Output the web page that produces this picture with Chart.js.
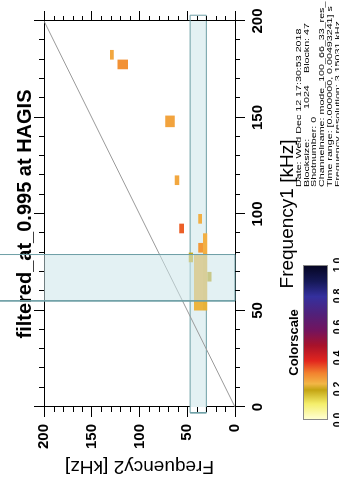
<!DOCTYPE html>
<html>
<head>
<meta charset="utf-8">
<script src="https://cdn.jsdelivr.net/npm/chart.js@4.4.1/dist/chart.umd.min.js"></script>
<style>
  html, body { margin: 0; padding: 0; background: #fff; overflow: hidden; }
  body { width: 339px; height: 477px; position: relative; }
  /* the plot is laid out landscape and turned a quarter turn, like the reference */
  #page {
    position: absolute; left: 0; top: 0; width: 477px; height: 339px; overflow: hidden;
    transform-origin: 0 0; transform: translateY(477px) rotate(-90deg);
    font-family: 'Liberation Sans', Arial, sans-serif; color: #000; background: #fff;
  }
  #chart { position: absolute; left: 0; top: 0; }
  #cbar-label { position: absolute; left: 57px; width: 155px; top: 286px; text-align: center;
    font-size: 13px; font-weight: bold; line-height: 16px; }
  #cbar { position: absolute; left: 57px; top: 303px; width: 153px; height: 23px; border: 1px solid #888; }
  #cbar-ticks { position: absolute; left: 57px; top: 331px; width: 155px; height: 14px; }
  #cbar-ticks span { position: absolute; top: 0; font-size: 10.5px; line-height: 12px; font-weight: bold; transform: translateX(-50%); }
  #meta { position: absolute; left: 290px; top: 294px; width: 190px; height: 50px; }
  #meta div { position: absolute; left: 0; white-space: pre; font-size: 10.7px; line-height: 10px;
    transform: scaleY(0.75); transform-origin: 0 0; }
  #meta .tab { display: inline-block; }
</style>
</head>
<body>
<div id="page">
  <canvas id="chart" width="477" height="339"></canvas>
  <div id="cbar-label">Colorscale</div>
  <div id="cbar"></div>
  <div id="cbar-ticks"></div>
  <div id="meta">
    <div style="top:0px">Date: Wed Dec 12 17:30:53 2018</div>
    <div style="top:7.7px"><span class="tab" style="width:78px">Blocksize:</span><span class="tab" style="width:36px">1024</span>Blockn: 47</div>
    <div style="top:15.4px">Shotnumber: 0</div>
    <div style="top:23.1px">Channelname: mode_100_66_33_res_</div>
    <div style="top:30.8px">Time range: [0.000000, 0.00493241] s</div>
    <div style="top:38.5px">Frequency resolution: 3.15031 kHz</div>
  </div>
</div>
<script>
// Frequency axes (kHz)
const axisMin = 0;
const axisMax = 200;
const majorStep = 50;
const minorStep = 10;

// Coherence cells: Frequency1 range, Frequency2 range and colorscale level
const cellF1Start = [180, 175, 145, 115, 90, 95, 79, 80, 75, 50, 50, 65];
const cellF1End   = [185, 180, 151, 120, 95, 100, 90, 85, 80, 79, 79, 70];
const cellF2Start = [127, 112, 63, 58.5, 53.5, 34.5, 29, 33.5, 44, 33.5, 29, 24.5];
const cellF2End   = [131, 123, 73, 63, 58.5, 38.5, 33.5, 38.5, 48.5, 43, 33.5, 29];
const cellLevel   = [0.25, 0.28, 0.255, 0.25, 0.33, 0.24, 0.24, 0.27, 0.18, 0.225, 0.22, 0.19];

// Selected frequency windows and how far they are drawn
const windowF1 = [55, 79];
const windowF1Reach = [0, 260];
const windowF2 = [30, 47];
const windowF2Reach = [-3, 203];

// f1 = f2 diagonal
const diagonalF = [0, 200];

// Colorscale
const colorStops = [0, 0.1, 0.19, 0.23, 0.3, 0.38, 0.48, 0.58, 0.68, 0.8, 0.9, 1.0];
const colorHex = ['#ffffd2', '#f4ee6a', '#c4a412', '#f2b646', '#f2822e', '#e2261e',
                  '#a8122a', '#72145e', '#522078', '#34309e', '#151856', '#060624'];
const colorTicks = [0, 0.2, 0.4, 0.6, 0.8, 1.0];

function hexToRgb(h) {
    return [1, 3, 5].map(i => parseInt(h.slice(i, i + 2), 16));
}

function levelColor(v) {
    for (let i = 1; i < colorStops.length; i++) {
        if (v <= colorStops[i]) {
            const t = (v - colorStops[i - 1]) / (colorStops[i] - colorStops[i - 1]);
            const a = hexToRgb(colorHex[i - 1]);
            const b = hexToRgb(colorHex[i]);
            const c = a.map((x, k) => Math.round(x + (b[k] - x) * t));
            return `rgb(${c[0]}, ${c[1]}, ${c[2]})`;
        }
    }
    return colorHex[colorHex.length - 1];
}

function rectPoints(x0, x1, y0, y1) {
    return [
        { x: x0, y: y0 }, { x: x1, y: y0 }, { x: x1, y: y1 },
        { x: x0, y: y1 }, { x: x0, y: y0 }
    ];
}

// colour bar
const cbar = document.getElementById('cbar');
cbar.style.background = 'linear-gradient(to right, ' +
    colorStops.map((s, i) => `${colorHex[i]} ${s * 100}%`).join(', ') + ')';
const cbarTicks = document.getElementById('cbar-ticks');
colorTicks.forEach(t => {
    const span = document.createElement('span');
    span.textContent = t.toFixed(1);
    span.style.left = (t * 155) + 'px';
    cbarTicks.appendChild(span);
});

const datasets = [];

// Frequency2 window, under the cells
datasets.push({
    data: rectPoints(windowF2Reach[0], windowF2Reach[1], windowF2[0], windowF2[1]),
    showLine: true, fill: 'shape', clip: false, order: 5,
    backgroundColor: '#e3f1f3', borderColor: '#6e9fa6', borderWidth: 1, pointRadius: 0
});

datasets.push({
    data: diagonalF.map(f => ({ x: f, y: f })),
    showLine: true, fill: false, order: 4,
    borderColor: '#9a9a9a', borderWidth: 1, pointRadius: 0
});

cellLevel.forEach((level, i) => {
    datasets.push({
        data: rectPoints(cellF1Start[i], cellF1End[i], cellF2Start[i], cellF2End[i]),
        showLine: true, fill: 'shape', order: 3,
        backgroundColor: levelColor(level), borderWidth: 0, pointRadius: 0
    });
});

// Frequency1 window, over the cells
datasets.push({
    data: rectPoints(windowF1[0], windowF1[1], windowF1Reach[0], windowF1Reach[1]),
    showLine: true, fill: 'shape', clip: false, order: 1, indexAxis: 'y',
    backgroundColor: 'rgba(204, 229, 233, 0.55)', borderColor: '#6e9fa6', borderWidth: 1, pointRadius: 0
});

const isMajor = v => v % majorStep === 0;

const tickFont = { family: "'Liberation Sans', Arial, sans-serif", size: 15, weight: 'bold' };
const titleFont = { family: "'Liberation Sans', Arial, sans-serif", size: 19, lineHeight: 1.1 };

function frameScale(position, extra) {
    return Object.assign({
        type: 'linear',
        position: position,
        min: axisMin,
        max: axisMax,
        ticks: {
            stepSize: minorStep,
            autoSkip: false,
            maxRotation: 0,
            display: false
        },
        grid: {
            drawOnChartArea: false,
            drawTicks: true,
            tickLength: 10,
            tickWidth: 1,
            tickColor: ctx => (ctx.tick && isMajor(ctx.tick.value) ? '#000' : 'rgba(0,0,0,0)')
        },
        border: { display: true, color: '#000', width: 1 }
    }, extra);
}

const labelTicks = {
    stepSize: minorStep,
    autoSkip: false,
    maxRotation: 0,
    display: true,
    font: tickFont,
    color: '#000',
    callback: v => (isMajor(v) ? v : '')
};

// short outward ticks between the labelled ones
const minorTicks = {
    id: 'minorTicks',
    afterDraw(chart) {
        const ctx = chart.ctx;
        ctx.save();
        ctx.strokeStyle = '#000';
        ctx.lineWidth = 1;
        Object.values(chart.scales).forEach(scale => {
            scale.ticks.forEach(t => {
                if (isMajor(t.value)) return;
                const p = Math.round(scale.getPixelForValue(t.value)) + 0.5;
                ctx.beginPath();
                if (scale.position === 'bottom') {
                    ctx.moveTo(p, scale.top); ctx.lineTo(p, scale.top + 5);
                } else if (scale.position === 'top') {
                    ctx.moveTo(p, scale.bottom); ctx.lineTo(p, scale.bottom - 5);
                } else if (scale.position === 'left') {
                    ctx.moveTo(scale.right, p); ctx.lineTo(scale.right - 5, p);
                } else {
                    ctx.moveTo(scale.left, p); ctx.lineTo(scale.left + 5, p);
                }
                ctx.stroke();
            });
        });
        ctx.restore();
    }
};

new Chart(document.getElementById('chart'), {
    type: 'scatter',
    data: { datasets: datasets },
    plugins: [minorTicks],
    options: {
        responsive: false,
        animation: false,
        events: [],
        layout: { padding: 0 },
        plugins: {
            legend: { display: false },
            tooltip: { enabled: false },
            title: {
                display: true,
                fullSize: false,
                text: 'filtered_at_0.995 at HAGIS',
                color: '#000',
                font: { family: "'Liberation Sans', Arial, sans-serif", size: 20, weight: 'bold', lineHeight: 1.2 },
                padding: { top: 13, bottom: 0 }
            }
        },
        scales: {
            x: frameScale('bottom', {
                ticks: Object.assign({}, labelTicks, { padding: 4 }),
                title: { display: true, text: 'Frequency1 [kHz]', color: '#000', font: titleFont,
                         padding: { top: 0, bottom: 41 } },
                afterFit: s => { s.height = 104; }
            }),
            x2: frameScale('top', { afterFit: s => { s.height = 7; } }),
            y: frameScale('left', {
                ticks: Object.assign({}, labelTicks, { padding: 7 }),
                title: { display: true, text: 'Frequency2 [kHz]', color: '#000', font: titleFont,
                         padding: { top: 0, bottom: 0 } },
                afterFit: s => { s.width = 70; }
            }),
            y2: frameScale('right', { afterFit: s => { s.width = 21; } })
        }
    }
});
</script>
</body>
</html>
